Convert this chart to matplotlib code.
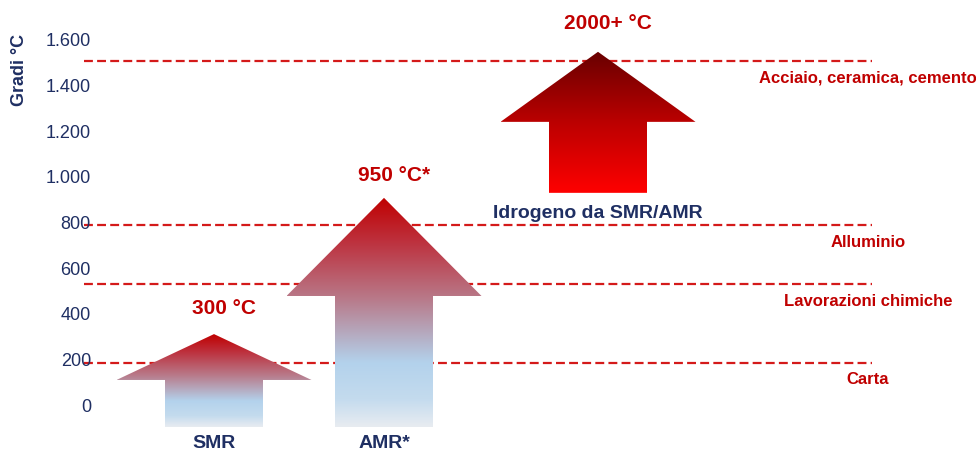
import matplotlib
matplotlib.use('Agg')
import matplotlib.pyplot as plt
import matplotlib.ticker as ticker
from matplotlib.colors import LinearSegmentedColormap
from matplotlib.patches import Polygon
from matplotlib import font_manager
import numpy as np

# data
categories = ['SMR', 'AMR*', 'Idrogeno da SMR/AMR']
temp_labels = ['300 °C', '950 °C*', '2000+ °C']
tip_values = [311, 908, 1548]       # arrow tip
head_base = [110, 478, 1241]        # where the head starts
shaft_bottom = [-96, -96, 930]      # bottom of the arrow shaft

industry_levels = [1508, 789, 530, 186]
industry_labels = ['Acciaio, ceramica, cemento', 'Alluminio',
                   'Lavorazioni chimiche', 'Carta']

yticks = [0, 200, 400, 600, 800, 1000, 1200, 1400, 1600]

# layout
x_pos = [130, 300, 514]
shaft_half = 49
head_half = 97.5
temp_label_y = [425, 1008, 1670]
cat_label_y = [-170, -170, 838]

navy = '#1f2f63'
red = '#c00000'

names = {f.name for f in font_manager.fontManager.ttflist}
if 'Liberation Sans Narrow' in names:
    fam = ['Liberation Sans Narrow', 'DejaVu Sans']
else:
    fam = ['Liberation Sans', 'DejaVu Sans']
plt.rcParams['font.family'] = fam

cool = LinearSegmentedColormap.from_list('cool', [
    (0.0, '#e8ecf1'), (0.12, '#c4dbee'), (0.28, '#b3d2ec'),
    (0.55, '#b87c8c'), (0.8, '#bd3340'), (1.0, '#c00000')])
hot = LinearSegmentedColormap.from_list('hot', [
    (0.0, '#ff0000'), (0.5, '#bb0000'), (1.0, '#680000')])
cmaps = [cool, cool, hot]

fig = plt.figure(figsize=(9.76, 4.53), dpi=100)
ax = fig.add_axes([84 / 976, 0, 892 / 976, 1])
ax.set_xlim(0, 892)
ax.set_ylim(-210, 1775)

for lvl, lab in zip(industry_levels, industry_labels):
    ax.plot([0, 788], [lvl, lvl], color='#d41a1a', lw=1.6,
            dashes=(4.0, 1.9), zorder=1)
    ax.text(784, lvl - 75, lab, color=red, fontsize=12, fontweight='bold',
            ha='center', va='center')

grad = np.linspace(0, 1, 256).reshape(-1, 1)
for i in range(3):
    xc = x_pos[i]
    pts = [(xc - shaft_half, shaft_bottom[i]), (xc + shaft_half, shaft_bottom[i]),
           (xc + shaft_half, head_base[i]), (xc + head_half, head_base[i]),
           (xc, tip_values[i]), (xc - head_half, head_base[i]),
           (xc - shaft_half, head_base[i])]
    poly = Polygon(pts, closed=True, facecolor='none', edgecolor='none')
    ax.add_patch(poly)
    im = ax.imshow(grad, cmap=cmaps[i], origin='lower', aspect='auto',
                   extent=[xc - head_half, xc + head_half,
                           shaft_bottom[i], tip_values[i]], zorder=2)
    im.set_clip_path(poly)
    ax.text(xc + 10, temp_label_y[i], temp_labels[i], color=red, fontsize=15,
            fontweight='bold', ha='center', va='center')
    ax.text(xc, cat_label_y[i], categories[i], color=navy, fontsize=14,
            fontweight='bold', ha='center', va='center')

ax.set_xlim(0, 892)
ax.set_ylim(-210, 1775)
ax.set_yticks(yticks)
ax.yaxis.set_major_formatter(ticker.FuncFormatter(
    lambda v, p: '{:,}'.format(int(v)).replace(',', '.')))
ax.tick_params(axis='y', length=0, pad=-5, labelsize=13, labelcolor=navy)
ax.set_xticks([])
for s in ax.spines.values():
    s.set_visible(False)
ax.patch.set_alpha(0)

fig.text(19 / 976, 1 - 70 / 453, 'Gradi °C', rotation=90, color=navy,
         fontsize=13, fontweight='bold', ha='center', va='center')

fig.savefig('out.png', dpi=100)
